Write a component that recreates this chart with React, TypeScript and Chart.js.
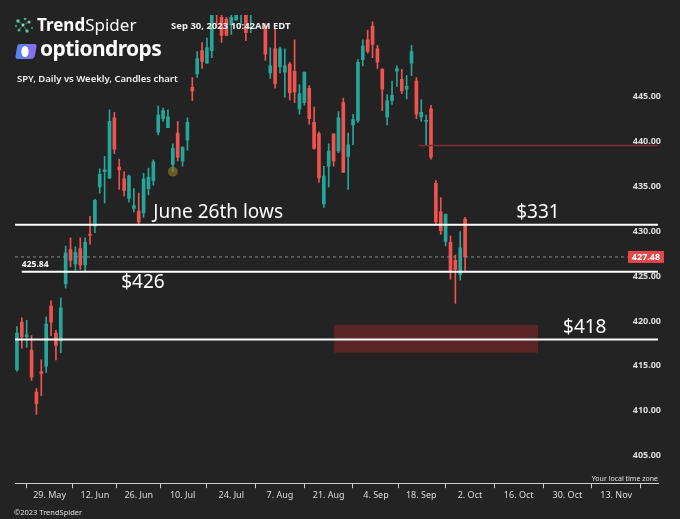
import React, { useEffect, useRef } from "react";
import { Chart, registerables } from "chart.js";

Chart.register(...registerables);

// ---- Data (SPY daily candles) ----
const DATES = [
  "2023-05-18", "2023-05-19", "2023-05-22", "2023-05-23", "2023-05-24", "2023-05-25", "2023-05-26",
  "2023-05-30", "2023-05-31", "2023-06-01", "2023-06-02", "2023-06-05", "2023-06-06", "2023-06-07",
  "2023-06-08", "2023-06-09", "2023-06-12", "2023-06-13", "2023-06-14", "2023-06-15", "2023-06-16",
  "2023-06-20", "2023-06-21", "2023-06-22", "2023-06-23", "2023-06-26", "2023-06-27", "2023-06-28",
  "2023-06-29", "2023-06-30", "2023-07-03", "2023-07-05", "2023-07-06", "2023-07-07", "2023-07-10",
  "2023-07-11", "2023-07-12", "2023-07-13", "2023-07-14", "2023-07-17", "2023-07-18", "2023-07-19",
  "2023-07-20", "2023-07-21", "2023-07-24", "2023-07-25", "2023-07-26", "2023-07-27", "2023-07-28",
  "2023-07-31", "2023-08-01", "2023-08-02", "2023-08-03", "2023-08-04", "2023-08-07", "2023-08-08",
  "2023-08-09", "2023-08-10", "2023-08-11", "2023-08-14", "2023-08-15", "2023-08-16", "2023-08-17",
  "2023-08-18", "2023-08-21", "2023-08-22", "2023-08-23", "2023-08-24", "2023-08-25", "2023-08-28",
  "2023-08-29", "2023-08-30", "2023-08-31", "2023-09-01", "2023-09-05", "2023-09-06", "2023-09-07",
  "2023-09-08", "2023-09-11", "2023-09-12", "2023-09-13", "2023-09-14", "2023-09-15", "2023-09-18",
  "2023-09-19", "2023-09-20", "2023-09-21", "2023-09-22", "2023-09-25", "2023-09-26", "2023-09-27",
  "2023-09-28", "2023-09-29",
];

const OPEN = [
  414.9, 420.2, 418.6, 417.1, 412.4, 414.7, 415.3,
  422.0, 419.0, 418.1, 424.5, 428.3, 426.7, 428.4,
  426.6, 430.0, 430.9, 435.3, 437.0, 436.3, 443.0,
  437.5, 436.2, 434.0, 432.9, 432.6, 432.4, 435.1,
  436.0, 441.4, 442.9, 441.9, 437.8, 441.3, 438.2,
  440.5, 446.4, 447.9, 450.5, 449.1, 450.5, 455.9,
  454.2, 454.0, 453.4, 453.9, 454.5, 459.0, 455.9,
  457.4, 456.3, 453.3, 448.0, 450.7, 448.7, 448.1,
  449.0, 448.2, 444.0, 444.7, 446.3, 442.5, 441.2,
  433.4, 437.6, 441.2, 439.3, 444.7, 438.7, 442.2,
  442.7, 449.5, 451.7, 453.2, 450.7, 448.4, 443.1,
  444.9, 448.2, 447.3, 446.2, 449.1, 447.1, 443.1,
  442.6, 444.0, 435.7, 432.5, 429.2, 429.1, 427.1,
  425.5, 431.7,
];

const HIGH = [
  419.7, 420.7, 420.4, 418.7, 412.8, 416.0, 420.8,
  422.6, 419.3, 422.9, 428.7, 429.6, 428.6, 429.6,
  429.6, 432.0, 433.9, 437.3, 438.7, 443.9, 443.6,
  438.4, 437.0, 436.6, 435.1, 434.6, 436.8, 437.4,
  438.3, 444.3, 444.1, 443.9, 440.1, 442.6, 439.8,
  443.0, 447.5, 450.4, 451.4, 451.9, 456.4, 456.4,
  455.1, 454.2, 455.0, 456.7, 457.0, 459.4, 457.8,
  458.2, 457.3, 453.5, 450.8, 452.9, 450.9, 450.7,
  449.2, 451.7, 446.7, 448.1, 446.6, 444.2, 441.4,
  437.6, 440.1, 441.2, 443.7, 445.2, 441.3, 443.4,
  449.5, 451.7, 452.8, 453.7, 451.1, 448.5, 445.6,
  447.1, 448.8, 448.4, 447.7, 451.1, 447.5, 445.0,
  443.3, 444.4, 436.0, 434.1, 432.3, 429.8, 427.7,
  430.3, 431.9,
];

const LOW = [
  414.7, 417.3, 417.4, 413.7, 409.9, 412.0, 414.6,
  418.7, 416.0, 416.8, 424.0, 426.4, 426.0, 426.1,
  425.8, 428.9, 430.2, 434.6, 433.5, 436.2, 439.0,
  435.0, 434.3, 433.6, 432.5, 431.2, 431.9, 434.4,
  435.5, 441.1, 442.6, 441.9, 437.0, 438.2, 437.6,
  439.4, 444.9, 447.5, 448.5, 449.1, 449.7, 453.1,
  451.4, 452.2, 452.3, 453.9, 453.4, 451.6, 452.5,
  456.1, 455.5, 449.4, 447.4, 446.3, 448.0, 445.3,
  445.0, 444.7, 443.4, 444.4, 442.3, 439.5, 435.8,
  433.0, 435.3, 437.6, 439.1, 436.9, 435.0, 440.0,
  442.5, 448.8, 450.2, 449.7, 448.5, 443.8, 442.2,
  444.5, 446.5, 445.7, 445.1, 447.7, 442.9, 442.6,
  439.9, 438.4, 431.2, 430.0, 428.7, 425.0, 422.3,
  424.9, 425.9,
];

const CLOSE = [
  419.0, 418.6, 418.8, 414.1, 411.1, 414.5, 420.0,
  420.2, 417.6, 421.8, 427.9, 427.1, 428.0, 426.6,
  429.1, 429.9, 433.8, 436.7, 437.2, 442.6, 439.5,
  437.2, 434.9, 436.5, 433.2, 431.4, 436.2, 436.4,
  438.1, 443.3, 443.8, 443.1, 439.6, 438.6, 439.7,
  442.5, 446.0, 449.6, 449.3, 450.8, 455.2, 455.2,
  452.2, 452.2, 454.2, 455.4, 455.5, 452.5, 456.9,
  457.8, 456.5, 450.1, 448.8, 446.8, 450.7, 448.8,
  445.8, 445.9, 445.7, 448.1, 442.9, 439.6, 436.3,
  436.5, 439.3, 438.2, 443.0, 436.9, 440.0, 442.8,
  449.2, 451.0, 450.4, 451.2, 449.2, 446.2, 444.9,
  445.5, 448.5, 446.0, 446.5, 450.4, 443.4, 443.6,
  442.7, 438.6, 431.4, 430.4, 432.2, 425.9, 426.1,
  428.5, 427.48,
];

// ---- Axis ticks ----
const TICK_DATES = [
  "2023-05-29", "2023-06-12", "2023-06-26", "2023-07-10", "2023-07-24", "2023-08-07", "2023-08-21",
  "2023-09-04", "2023-09-18", "2023-10-02", "2023-10-16", "2023-10-30", "2023-11-13",
];
const TICK_LABELS = [
  "29. May", "12. Jun", "26. Jun", "10. Jul", "24. Jul", "7. Aug", "21. Aug",
  "4. Sep", "18. Sep", "2. Oct", "16. Oct", "30. Oct", "13. Nov",
];
const Y_TICKS = [405, 410, 415, 420, 425, 430, 435, 440, 445];

// ---- Levels / annotations ----
const LEVEL_JUNE26 = 431.08;
const LEVEL_426 = 425.84;
const LEVEL_418 = 418.28;
const LEVEL_RED = 439.9;
const LAST_PRICE = 427.48;
const ZONE_LOW = 416.8;
const ZONE_HIGH = 419.9;
const ZONE_X = [65.1, 107];
const RED_X_FROM = 82.4;

const NOTE_TEXT = ["June 26th lows", "$331", "$426", "$418"];
const NOTE_X = [28, 102.5, 21.4, 112.1];
const NOTE_Y = [431.8, 431.8, 424.0, 419.0];

const X_MIN = -0.4;
const X_MAX = 131.6;
const Y_MIN = 402.24;
const Y_MAX = 454.47;

const UP = "#26a69a";
const DOWN = "#ef5350";

function buildCalendar(): string[] {
  const cal = [...DATES];
  let t = Date.parse(DATES[DATES.length - 1] + "T00:00:00Z");
  while (cal.length < 150) {
    t += 86400000;
    const d = new Date(t);
    const wd = d.getUTCDay();
    if (wd !== 0 && wd !== 6) cal.push(d.toISOString().slice(0, 10));
  }
  return cal;
}
const CAL = buildCalendar();
function posOf(date: string): number {
  const exact = CAL.indexOf(date);
  if (exact >= 0) return exact;
  const next = CAL.findIndex((c) => c > date);
  return next - 0.3;
}

const annotationPlugin = {
  id: "annotations",
  afterDatasetsDraw(chart: any) {
    const { ctx, chartArea } = chart;
    const x = chart.scales.x;
    const y = chart.scales.y;
    ctx.save();
    ctx.fillStyle = "#ffffff";
    ctx.textBaseline = "alphabetic";
    ctx.textAlign = "left";
    ctx.font = '19px "Noto Sans"';
    NOTE_TEXT.forEach((t, i) => {
      ctx.fillText(t, x.getPixelForValue(NOTE_X[i]), y.getPixelForValue(NOTE_Y[i]));
    });
    // level value label
    ctx.font = 'bold 8.5px "Noto Sans"';
    ctx.fillText(LEVEL_426.toFixed(2), x.getPixelForValue(1), y.getPixelForValue(LEVEL_426) - 5);
    // last price box
    const py = y.getPixelForValue(LAST_PRICE);
    ctx.fillStyle = "#e4474b";
    ctx.fillRect(chartArea.right - 30, py - 6, 36, 12);
    ctx.fillStyle = "#ffffff";
    ctx.font = 'bold 9px "Noto Sans"';
    ctx.textAlign = "center";
    ctx.textBaseline = "middle";
    ctx.fillText(LAST_PRICE.toFixed(2), chartArea.right - 12, py + 0.5);
    ctx.restore();
  },
};

function hLine(v: number, from: number, to: number, color: string, width: number, order: number, dash: number[] = []) {
  return {
    type: "line" as const,
    data: [{ x: from, y: v }, { x: to, y: v }],
    borderColor: color,
    borderWidth: width,
    borderDash: dash,
    pointRadius: 0,
    fill: false,
    order,
  };
}

export default function App() {
  const ref = useRef<HTMLCanvasElement | null>(null);

  useEffect(() => {
    if (!ref.current) return;
    Chart.defaults.font.family = '"Noto Sans", sans-serif';
    const colors = DATES.map((_, i) => (CLOSE[i] >= OPEN[i] ? UP : DOWN));
    const tickPos = TICK_DATES.map(posOf);

    const chart = new Chart(ref.current, {
      type: "bar",
      data: {
        datasets: [
          hLine(LEVEL_JUNE26, X_MIN, X_MAX, "#ffffff", 2, 0),
          hLine(LEVEL_426, 1, X_MAX, "#ffffff", 2, 0),
          hLine(LEVEL_418, X_MIN, X_MAX, "#ffffff", 2, 0),
          hLine(LAST_PRICE, X_MIN, 125.4, "#8a8a8a", 1, 1, [3, 3]),
          hLine(LEVEL_RED, RED_X_FROM, X_MAX, "#7d2c30", 1.5, 1),
          {
            type: "line" as const,
            data: [
              { x: ZONE_X[0], y: ZONE_HIGH },
              { x: ZONE_X[1], y: ZONE_HIGH },
            ],
            borderWidth: 0,
            borderColor: "rgba(0,0,0,0)",
            pointRadius: 0,
            fill: { value: ZONE_LOW },
            backgroundColor: "rgba(128,36,42,0.6)",
            order: 5,
          },
          {
            type: "line" as const,
            data: [{ x: posOf("2023-07-06"), y: 437.0 }],
            showLine: false,
            pointRadius: 5,
            pointBorderWidth: 0,
            pointBackgroundColor: "rgba(150,128,40,0.6)",
            order: 1,
          },
          {
            type: "bar" as const,
            data: DATES.map((_, i) => ({ x: i, y: [OPEN[i], CLOSE[i]] })),
            backgroundColor: colors,
            barThickness: 3,
            minBarLength: 1,
            grouped: false,
            borderWidth: 0,
            order: 2,
          },
          {
            type: "bar" as const,
            data: DATES.map((_, i) => ({ x: i, y: [LOW[i], HIGH[i]] })),
            backgroundColor: colors,
            barThickness: 1,
            grouped: false,
            borderWidth: 0,
            order: 3,
          },
        ] as any,
      },
      options: {
        responsive: false,
        devicePixelRatio: 1,
        animation: false,
        events: [],
        layout: { padding: { left: 15, right: 16, top: 15, bottom: 16 } },
        plugins: { legend: { display: false }, tooltip: { enabled: false } },
        scales: {
          x: {
            type: "linear",
            min: X_MIN,
            max: X_MAX,
            offset: false,
            position: "bottom",
            grid: { display: true, drawOnChartArea: false, drawTicks: true, tickLength: 5, color: "#cfcfcf" },
            border: { display: true, color: "#cfcfcf", width: 1 },
            afterBuildTicks: (axis: any) => {
              axis.ticks = tickPos.map((v) => ({ value: v }));
            },
            ticks: {
              autoSkip: false,
              maxRotation: 0,
              padding: 2,
              color: "#dcdcdc",
              font: { size: 9 },
              callback: (_v: any, i: number) => TICK_LABELS[i],
            },
          },
          y: {
            type: "linear",
            position: "right",
            min: Y_MIN,
            max: Y_MAX,
            grid: { display: false, drawTicks: false },
            border: { display: false },
            afterBuildTicks: (axis: any) => {
              axis.ticks = Y_TICKS.map((v) => ({ value: v }));
            },
            ticks: {
              mirror: true,
              padding: 3,
              labelOffset: -3,
              color: "#dcdcdc",
              font: { size: 9, weight: "bold" },
              callback: (v: any) => Number(v).toFixed(2),
            },
          },
        },
      } as any,
      plugins: [annotationPlugin],
    });
    return () => chart.destroy();
  }, []);

  const txt = { position: "absolute" as const, color: "#ffffff", fontFamily: '"Noto Sans", sans-serif', whiteSpace: "nowrap" as const };

  return (
    <div style={{ position: "fixed", left: 0, top: 0, width: 680, height: 519, background: "#232323", overflow: "hidden" }}>
      <canvas ref={ref} width={680} height={519} style={{ position: "absolute", left: 0, top: 0 }} />
      {/* TrendSpider logo */}
      <svg style={{ position: "absolute", left: 14, top: 17 }} width={20} height={18} viewBox="0 0 20 18">
        <g stroke="#3f8f7c" strokeWidth="0.8">
          <line x1="4" y1="4" x2="9" y2="8" />
          <line x1="9" y1="8" x2="15" y2="5" />
          <line x1="9" y1="8" x2="5" y2="13" />
          <line x1="9" y1="8" x2="13" y2="14" />
        </g>
        <circle cx="4" cy="4" r="1.8" fill="#5fc4a4" />
        <circle cx="11" cy="2" r="1.3" fill="#4aa98f" />
        <circle cx="15" cy="5" r="1.6" fill="#66d1ae" />
        <circle cx="9" cy="8" r="1.4" fill="#8fe0c4" />
        <circle cx="2" cy="9" r="1.2" fill="#3c8f7a" />
        <circle cx="5" cy="13" r="1.5" fill="#4fb394" />
        <circle cx="13" cy="14" r="1.7" fill="#58c09f" />
        <circle cx="18" cy="11" r="1.1" fill="#3f9c84" />
      </svg>
      <div style={{ ...txt, left: 37, top: 15, fontSize: 17, lineHeight: "20px" }}>
        <span style={{ fontWeight: 700 }}>Trend</span>
        <span style={{ fontWeight: 400 }}>Spider</span>
      </div>
      <div style={{ ...txt, left: 171, top: 20, fontSize: 9.5, lineHeight: "12px", fontWeight: 700, color: "#eeeeee" }}>
        Sep 30, 2023 10:42AM EDT
      </div>
      {/* optiondrops logo */}
      <svg style={{ position: "absolute", left: 15, top: 44 }} width={22} height={15} viewBox="0 0 22 15">
        <defs>
          <linearGradient id="odg" x1="0" y1="0" x2="1" y2="0">
            <stop offset="0" stopColor="#4f86f0" />
            <stop offset="1" stopColor="#8e6cf2" />
          </linearGradient>
        </defs>
        <path d="M4 0 H19 Q22 0 21.5 3 L20 11 Q19.3 15 15.5 15 H3 Q0 15 0.5 12 L2 3.5 Q2.6 0 4 0 Z" fill="url(#odg)" />
        <ellipse cx="10" cy="7.5" rx="3.6" ry="5.6" fill="#ffffff" />
      </svg>
      <div style={{ ...txt, left: 40, top: 36, fontSize: 21, lineHeight: "24px", fontWeight: 700, letterSpacing: "-0.6px" }}>
        optiondrops
      </div>
      <div style={{ ...txt, left: 17, top: 73, fontSize: 9.5, lineHeight: "12px", fontWeight: 600, color: "#f2f2f2" }}>
        SPY, Daily vs Weekly, Candles chart
      </div>
      <div style={{ ...txt, right: 22, top: 474, fontSize: 7, lineHeight: "9px", color: "#e0e0e0" }}>
        Your local time zone
      </div>
      <div style={{ ...txt, left: 14, top: 507, fontSize: 7.5, lineHeight: "10px", color: "#e0e0e0" }}>
        ©2023 TrendSpider
      </div>
    </div>
  );
}
